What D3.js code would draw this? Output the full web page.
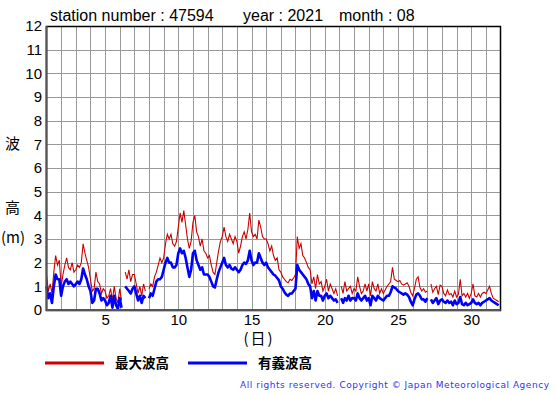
<!DOCTYPE html>
<html>
<head>
<meta charset="utf-8">
<script src="https://cdnjs.cloudflare.com/ajax/libs/d3/7.8.5/d3.min.js"></script>
<style>
  body { margin: 0; background: #fff; }
  svg { display: block; font-family: "Liberation Sans", Arial, sans-serif; }
  .jp { font-family: "Noto Sans CJK JP", sans-serif; }
</style>
</head>
<body>
<svg id="chart"></svg>
<script>
// wave heights (m), one value every 3 hours, Aug 1 00h .. Aug 31 21h (null = missing)
const maxWave = [
  1.5, 0.8, 1.1, 0.7, 1.6, 2.3, 1.9, 2.1,   // 1
  1.0, 1.5, 1.9, 2.2, 1.8, 1.7, 2.0, 1.6,   // 2
  1.7, 1.9, 1.8, 2.0, 2.8, 2.4, 2.1, 1.8,   // 3
  1.3, 0.8, 0.9, 1.6, 1.2, 1.1, 0.7, 0.9,   // 4
  0.8, 0.5, 0.6, 0.9, 0.4, 1.0, 0.5, 0.3,   // 5
  0.9, 0.4, null, 1.6, 1.3, 1.7, 1.2, 1.5,  // 6
  1.5, 1.1, 0.7, 1.0, 0.6, 1.1, 0.8, null,  // 7
  0.9, 1.1, 1.0, 1.4, 1.6, 1.9, 2.2, 2.0,   // 8
  2.2, 2.8, 3.2, 3.0, 3.2, 2.8, 2.7, 2.9,   // 9
  3.5, 4.1, 3.7, 4.2, 3.6, 3.0, 2.6, 2.9,   // 10
  3.7, 4.0, 3.3, 3.1, 2.7, 3.0, 2.5, 2.4,   // 11
  2.2, 2.3, 1.9, 1.6, 1.5, 2.0, 2.5, 2.9,   // 12
  3.1, 3.5, 3.1, 2.9, 3.2, 3.0, 2.8, 3.1,   // 13
  2.9, 2.4, 2.7, 3.1, 3.3, 3.0, 3.4, 4.1,   // 14
  3.3, 3.1, 3.2, 3.0, 3.8, 3.5, 3.1, 3.0,   // 15
  3.0, 2.8, 2.5, 2.7, 2.3, 2.1, 2.2, 1.7,   // 16
  1.6, 1.4, 1.3, 1.2, 1.15, 1.3, 1.25, 1.35, // 17
  1.5, 3.1, 2.6, 2.8, 2.3, 2.2, 2.0, 1.8,   // 18
  1.7, 1.1, 1.4, 0.9, 1.5, 1.1, 1.2, 0.8,   // 19
  1.0, 1.3, 0.8, 1.1, 0.9, 0.7, 0.9, 0.6,   // 20
  null, 1.0, 0.7, 1.2, 0.8, 0.9, 1.0, 0.7,  // 21
  0.9, 0.8, 1.4, 1.0, 0.7, 0.8, 1.1, 0.8,   // 22
  1.1, 0.6, 1.2, 0.9, 0.8, 1.1, 0.7, 0.9,   // 23
  0.7, 0.85, 1.0, 1.1, 1.2, 1.8, 1.3, 1.25, // 24
  1.2, 1.25, 1.1, 1.05, 1.1, 1.15, 1.0, 0.75, // 25
  0.6, 0.9, 1.3, 1.4, 0.95, 0.8, 0.9, 0.75, // 26
  0.8, null, 1.1, 0.75, 0.9, 1.0, 0.65, 1.05, // 27
  1.0, 0.7, 0.6, 0.85, 0.65, 0.7, 0.55, 0.8, // 28
  0.55, 0.65, 1.3, 0.6, 0.7, 0.55, 0.7, 0.5, // 29
  0.7, 1.1, 0.6, 0.55, 0.7, 0.55, 0.7, 0.75, // 30
  0.7, 0.85, 1.0, 0.7, 0.5, 0.45, 0.4, 0.35  // 31
];

const sigWave = [
  1.0, 0.5, 0.7, 0.3, 1.0, 1.5, 1.3, 1.3,   // 1
  0.6, 1.0, 1.2, 1.3, 1.1, 1.2, 1.1, 1.0,   // 2
  1.1, 1.2, 1.1, 1.3, 1.75, 1.5, 1.3, 1.0,  // 3
  0.8, 0.3, 0.4, 0.9, 0.9, 0.7, 0.4, 0.5,   // 4
  0.4, 0.2, 0.3, 0.6, 0.1, 0.6, 0.2, 0.05,  // 5
  0.5, 0.1, null, 1.0, 0.9, 0.8, 0.7, 0.9,  // 6
  1.0, 0.7, 0.4, 0.6, 0.3, 0.6, 0.5, null,  // 7
  0.5, 0.7, 0.6, 0.9, 1.2, 1.3, 1.3, 1.4,   // 8
  1.7, 2.0, 2.2, 2.0, 2.0, 1.8, 1.8, 1.9,   // 9
  2.4, 2.6, 2.4, 2.5, 2.2, 1.8, 1.4, 1.7,   // 10
  2.4, 2.5, 2.1, 1.9, 1.7, 1.8, 1.5, 1.5,   // 11
  1.5, 1.4, 1.2, 1.0, 0.95, 1.3, 1.6, 1.8,  // 12
  2.0, 2.2, 1.9, 1.8, 1.9, 1.75, 1.7, 1.8,  // 13
  1.7, 1.6, 1.7, 1.9, 2.0, 1.95, 2.1, 2.5,  // 14
  2.1, 1.9, 2.0, 2.0, 2.4, 2.2, 2.0, 1.9,   // 15
  2.0, 1.8, 1.7, 1.6, 1.5, 1.45, 1.35, 1.25, // 16
  1.0, 0.9, 0.75, 0.65, 0.6, 0.7, 0.7, 0.8, // 17
  0.9, 1.9, 1.7, 1.6, 1.5, 1.4, 1.3, 1.1,   // 18
  1.0, 0.5, 0.8, 0.4, 0.8, 0.6, 0.6, 0.4,   // 19
  0.6, 0.7, 0.5, 0.6, 0.5, 0.4, 0.45, 0.3,  // 20
  null, 0.5, 0.3, 0.5, 0.4, 0.6, 0.4, 0.5,  // 21
  0.5, 0.4, 0.7, 0.5, 0.4, 0.5, 0.6, 0.4,   // 22
  0.5, 0.2, 0.6, 0.5, 0.4, 0.6, 0.5, 0.45,  // 23
  0.4, 0.5, 0.6, 0.6, 0.75, 1.0, 0.95, 0.9, // 24
  0.8, 0.75, 0.7, 0.65, 0.7, 0.65, 0.55, 0.35, // 25
  0.2, 0.45, 0.65, 0.7, 0.6, 0.45, 0.45, 0.35, // 26
  0.5, null, 0.45, 0.3, 0.4, 0.5, 0.25, 0.4, // 27
  0.45, 0.35, 0.3, 0.4, 0.3, 0.35, 0.2, 0.4, // 28
  0.25, 0.3, 0.55, 0.25, 0.2, 0.3, 0.2, 0.25, // 29
  0.3, 0.45, 0.3, 0.25, 0.3, 0.2, 0.3, 0.35, // 30
  0.4, 0.45, 0.5, 0.4, 0.35, 0.3, 0.25, 0.2  // 31
];

const samplesPerDay = 8;
const dayTicks = [5, 10, 15, 20, 25, 30];
const heightTicks = [0, 1, 2, 3, 4, 5, 6, 7, 8, 9, 10, 11, 12];
const titleParts = ["station number : 47594", "year : 2021", "month : 08"];
const legendNames = ["最大波高", "有義波高"];
const maxColor = "#cc0000";
const sigColor = "#0000ff";

const width = 555, height = 395;
const plot = { left: 46.5, right: 500.5, top: 26, bottom: 310 };

const svg = d3.select("#chart")
  .attr("width", width)
  .attr("height", height);

const x = d3.scaleLinear().domain([1, 32]).range([plot.left, plot.right]);
const y = d3.scaleLinear().domain([0, 12]).range([plot.bottom, plot.top]);

// grid

const grid = svg.append("g").attr("class", "grid")
  .attr("stroke", "#999")
  .attr("stroke-width", 1);

grid.selectAll("line.v")
  .data(d3.range(2, 32))
  .enter().append("line")
  .attr("class", "v")
  .attr("x1", d => Math.round(x(d)) + 0.5)
  .attr("x2", d => Math.round(x(d)) + 0.5)
  .attr("y1", plot.top)
  .attr("y2", plot.bottom);

grid.selectAll("line.h")
  .data(heightTicks.slice(1, -1))
  .enter().append("line")
  .attr("class", "h")
  .attr("x1", plot.left)
  .attr("x2", plot.right)
  .attr("y1", d => Math.round(y(d)) + 0.5)
  .attr("y2", d => Math.round(y(d)) + 0.5);

// series

const t = (d, i) => 1 + i / samplesPerDay;
const line = d3.line()
  .defined(d => d != null)
  .x((d, i) => x(t(d, i)))
  .y(d => y(d));

svg.append("path")
  .datum(maxWave)
  .attr("fill", "none")
  .attr("stroke", maxColor)
  .attr("stroke-width", 1.1)
  .attr("d", line);

svg.append("path")
  .datum(sigWave)
  .attr("fill", "none")
  .attr("stroke", sigColor)
  .attr("stroke-width", 2.6)
  .attr("stroke-linejoin", "round")
  .attr("d", line);

// frame

svg.append("rect")
  .attr("x", plot.left)
  .attr("y", plot.top + 0.5)
  .attr("width", plot.right - plot.left)
  .attr("height", plot.bottom - plot.top)
  .attr("fill", "none")
  .attr("stroke", "#000")
  .attr("stroke-width", 1.5);

svg.append("path")
  .attr("d", `M${plot.left},${plot.top}V${plot.bottom}H${plot.right}`)
  .attr("fill", "none")
  .attr("stroke", "#555")
  .attr("stroke-width", 2);

// axes

const yAxis = svg.append("g")
  .attr("transform", `translate(${plot.left - 0.5},0)`)
  .call(d3.axisLeft(y).tickValues(heightTicks).tickSize(0).tickPadding(4));
yAxis.select(".domain").remove();
yAxis.selectAll("text")
  .attr("font-size", 15)
  .attr("font-family", "Liberation Sans, Arial, sans-serif")
  .attr("fill", "#000");

const xAxis = svg.append("g")
  .attr("transform", `translate(0,${plot.bottom})`)
  .call(d3.axisBottom(x).tickValues(dayTicks).tickSize(0).tickPadding(4.5));
xAxis.select(".domain").remove();
xAxis.selectAll("text")
  .attr("font-size", 15)
  .attr("font-family", "Liberation Sans, Arial, sans-serif")
  .attr("fill", "#000");

// title

const titleX = [50, 243, 339];
svg.selectAll("text.title")
  .data(titleParts)
  .enter().append("text")
  .attr("class", "title")
  .attr("x", (d, i) => titleX[i])
  .attr("y", 20.5)
  .attr("font-size", 16)
  .text(d => d);

// axis labels

svg.append("text").attr("class", "jp")
  .attr("x", 12.5).attr("y", 149)
  .attr("text-anchor", "middle").attr("font-size", 15)
  .text("波");

svg.append("text").attr("class", "jp")
  .attr("x", 12.5).attr("y", 213)
  .attr("text-anchor", "middle").attr("font-size", 15)
  .text("高");

svg.append("text").attr("class", "jp")
  .attr("x", 1).attr("y", 243)
  .attr("font-size", 15)
  .text("(m)");

svg.append("text")
  .attr("class", "jp")
  .attr("x", 259)
  .attr("y", 344)
  .attr("text-anchor", "middle")
  .attr("font-size", 15)
  .attr("letter-spacing", 2)
  .text("(日)");

// legend

const legend = svg.append("g").attr("class", "legend");
const legendX = [45, 188];
const legendColors = [maxColor, sigColor];

legend.selectAll("line")
  .data(legendNames)
  .enter().append("line")
  .attr("x1", (d, i) => legendX[i])
  .attr("x2", (d, i) => legendX[i] + 59)
  .attr("y1", 363)
  .attr("y2", 363)
  .attr("stroke", (d, i) => legendColors[i])
  .attr("stroke-width", 3);

legend.selectAll("text")
  .data(legendNames)
  .enter().append("text")
  .attr("class", "jp")
  .attr("x", (d, i) => legendX[i] + 70)
  .attr("y", 368)
  .attr("font-size", 13.5)
  .attr("font-weight", "bold")
  .text(d => d);

// copyright

svg.append("text")
  .attr("x", 240)
  .attr("y", 388)
  .attr("font-family", "DejaVu Sans, sans-serif")
  .attr("font-size", 9)
  .attr("fill", "#3333ee")
  .attr("textLength", 309)
  .attr("lengthAdjust", "spacing")
  .text("All rights reserved. Copyright © Japan Meteorological Agency");
</script>
</body>
</html>
